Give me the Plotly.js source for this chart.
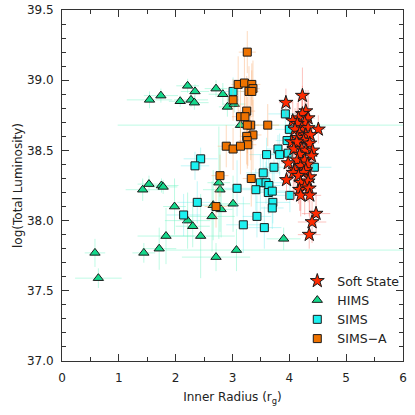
<!DOCTYPE html>
<html>
<head>
<meta charset="utf-8">
<script src="https://cdn.plot.ly/plotly-3.0.1.min.js"></script>
<style>html,body{margin:0;padding:0;background:#fff;}#chart{width:415px;height:415px;}</style>
</head>
<body>
<div id="chart"></div>
<script>
// ---- Data ----
// HIMS
const himsX   = [1.54,1.74,2.21,2.34,2.08,2.27,2.33,2.71,2.83,2.91,3.03,3.14,1.42,1.53,1.75,1.78,1.98,2.21,2.30,2.44,1.83,1.71,1.44,0.58,0.64,2.76,2.78,2.66,2.80,3.01,2.64,2.71,3.07,3.90];
const himsY   = [38.86,38.89,38.96,38.92,38.85,38.86,38.84,38.94,38.90,38.81,38.83,38.68,38.22,38.26,38.25,38.24,38.10,38.00,37.96,37.89,37.89,37.80,37.77,37.77,37.59,38.27,38.22,38.11,38.08,38.12,38.03,37.74,37.79,37.87];
const himsXErrPlus  = [0.40,0.30,0.20,0.25,0.20,0.30,0.25,0.20,0.25,0.15,0.20,3.00,0.30,0.20,0.30,0.25,0.20,0.40,0.30,0.60,0.50,0.30,0.20,0.18,0.41,0.20,0.30,0.30,0.20,0.30,0.40,0.60,3.00,0.30];
const himsXErrMinus = [0.40,0.30,0.20,0.25,0.20,0.30,0.25,0.20,0.25,0.15,0.20,2.16,0.30,0.20,0.30,0.25,0.20,0.40,0.30,0.60,0.50,0.30,0.20,0.18,0.41,0.20,0.30,0.30,0.20,0.30,0.40,0.60,1.24,0.30];
const himsYErr = [0.06,0.05,0.05,0.05,0.04,0.05,0.05,0.06,0.08,0.07,0.06,0.08,0.08,0.06,0.05,0.05,0.20,0.20,0.15,0.30,0.20,0.15,0.07,0.10,0.07,0.40,0.30,0.25,0.20,0.20,0.25,0.10,0.15,0.08];

// SIMS
const simsX = [3.01,3.93,4.00,3.96,2.44,2.34,3.60,3.80,3.83,3.98,3.73,3.54,4.44,3.08,2.38,3.49,3.59,3.41,3.64,3.63,3.70,3.71,3.70,4.01,3.43,3.19,3.56,2.14];
const simsY = [38.92,38.76,38.65,38.57,38.44,38.39,38.47,38.51,38.47,38.48,38.38,38.34,38.38,38.23,38.13,38.27,38.27,38.22,38.25,38.20,38.21,38.13,38.09,38.18,38.03,37.97,37.95,38.04];
const simsXErr = [0.20,0.30,0.25,0.20,0.30,0.25,0.30,0.20,0.25,0.30,0.20,0.30,0.30,0.25,0.35,0.20,0.30,0.25,0.20,0.30,0.25,0.30,0.20,0.30,0.25,0.30,0.30,0.30];
const simsYErr = [0.10,0.12,0.10,0.10,0.08,0.10,0.12,0.10,0.15,0.12,0.10,0.12,0.10,0.20,0.15,0.20,0.15,0.15,0.20,0.15,0.15,0.15,0.15,0.12,0.15,0.20,0.15,0.15];

// SIMS-A
const simsaX = [3.26,3.10,3.21,3.34,3.36,3.29,3.34,3.01,3.25,3.14,3.22,3.32,3.26,3.62,3.36,3.25,3.26,3.27,2.89,3.01,3.14,2.78,3.33,2.71];
const simsaY = [39.20,38.97,38.98,38.97,38.94,38.92,38.92,38.86,38.78,38.74,38.74,38.68,38.68,38.68,38.61,38.60,38.57,38.54,38.53,38.51,38.53,38.32,38.30,38.10];
const simsaXErr = [0.15,0.12,0.15,0.15,0.12,0.15,0.12,0.10,0.15,0.15,0.12,0.15,0.15,0.20,0.15,0.12,0.15,0.15,0.15,0.12,0.15,0.15,0.15,0.20];
const simsaYErr = [0.15,0.20,0.20,0.15,0.20,0.18,0.15,0.15,0.25,0.25,0.20,0.25,0.20,0.15,0.25,0.20,0.20,0.15,0.15,0.15,0.20,0.15,0.20,0.15];

// Soft State
const softX = [4.23,3.94,4.29,4.23,4.16,4.33,4.06,4.27,4.14,4.51,4.22,4.10,4.33,4.18,4.29,4.37,4.14,4.04,4.25,4.36,4.16,4.13,4.08,4.22,4.29,4.41,4.18,4.39,3.98,4.14,4.27,4.20,4.32,4.10,4.29,4.07,4.25,3.95,4.16,4.36,4.20,4.33,4.27,4.18,4.35,4.20,4.36,4.47,4.40,4.35];
const softY = [38.89,38.84,38.78,38.76,38.73,38.73,38.71,38.70,38.69,38.65,38.66,38.65,38.66,38.62,38.61,38.61,38.59,38.56,38.57,38.55,38.54,38.56,38.51,38.51,38.50,38.50,38.47,38.46,38.41,38.43,38.43,38.39,38.40,38.36,38.36,38.34,38.34,38.29,38.32,38.31,38.27,38.28,38.24,38.22,38.23,38.18,38.18,38.05,37.99,37.90];
const softXErr = [0.10,0.12,0.10,0.12,0.10,0.12,0.10,0.12,0.10,0.12,0.10,0.10,0.12,0.10,0.12,0.10,0.12,0.10,0.12,0.10,0.12,0.10,0.12,0.10,0.12,0.10,0.12,0.10,0.12,0.10,0.12,0.10,0.12,0.10,0.12,0.10,0.12,0.10,0.12,0.10,0.12,0.10,0.12,0.10,0.12,0.10,0.20,0.25,0.25,0.20];
const softYErr = [0.20,0.10,0.15,0.20,0.15,0.20,0.15,0.20,0.15,0.10,0.20,0.15,0.20,0.15,0.20,0.15,0.20,0.15,0.20,0.15,0.20,0.15,0.20,0.15,0.20,0.15,0.20,0.15,0.15,0.20,0.15,0.20,0.15,0.20,0.15,0.20,0.15,0.15,0.20,0.15,0.20,0.15,0.20,0.15,0.20,0.15,0.20,0.15,0.15,0.10];

const legendNames = ['Soft State','HIMS','SIMS','SIMS\u2212A'];

// ---- Traces ----
const outline = {color:'#1a1a1a', width:1};
const traces = [
  {
    type:'scatter', mode:'markers', name:legendNames[1], legendrank:2,
    x:himsX, y:himsY,
    error_x:{type:'data', symmetric:false, array:himsXErrPlus, arrayminus:himsXErrMinus, color:'rgba(110,245,195,0.45)', thickness:1, width:0},
    error_y:{type:'data', array:himsYErr, color:'rgba(110,245,195,0.45)', thickness:1, width:0},
    marker:{symbol:'triangle-up', size:9, color:'#14d98c', line:outline}
  },
  {
    type:'scatter', mode:'markers', name:legendNames[2], legendrank:3,
    x:simsX, y:simsY,
    error_x:{type:'data', array:simsXErr, color:'rgba(100,235,235,0.4)', thickness:1, width:0},
    error_y:{type:'data', array:simsYErr, color:'rgba(100,235,235,0.4)', thickness:1, width:0},
    marker:{symbol:'square', size:8, color:'#1cf0f0', line:outline}
  },
  {
    type:'scatter', mode:'markers', name:legendNames[3], legendrank:4,
    x:simsaX, y:simsaY,
    error_x:{type:'data', array:simsaXErr, color:'rgba(250,170,110,0.45)', thickness:1, width:0},
    error_y:{type:'data', array:simsaYErr, color:'rgba(250,170,110,0.45)', thickness:1, width:0},
    marker:{symbol:'square', size:8, color:'#ee7200', line:outline}
  },
  {
    type:'scatter', mode:'markers', name:legendNames[0], legendrank:1,
    x:softX, y:softY,
    error_x:{type:'data', array:softXErr, color:'rgba(250,120,110,0.45)', thickness:1, width:0},
    error_y:{type:'data', array:softYErr, color:'rgba(250,120,110,0.45)', thickness:1, width:0},
    marker:{symbol:'star', size:10.5, color:'#ff2a00', line:outline}
  }
];

const fontFam = 'DejaVu Sans, sans-serif';
const layout = {
  width:415, height:415,
  margin:{l:62, r:10, t:10, b:54, pad:0},
  paper_bgcolor:'#ffffff', plot_bgcolor:'#ffffff',
  font:{family:fontFam, size:12, color:'#222'},
  showlegend:true,
  legend:{x:0.69, y:0.27, xanchor:'left', yanchor:'top', bgcolor:'rgba(0,0,0,0)', borderwidth:0,
          font:{family:fontFam, size:12.5, color:'#222'}, tracegroupgap:0, itemsizing:'trace'},
  xaxis:{
    range:[0,6], dtick:1, tick0:0, ticks:'inside', ticklen:7, tickwidth:1, tickcolor:'#333',
    minor:{dtick:0.5, ticks:'inside', ticklen:4, tickcolor:'#333', showgrid:false},
    showline:true, linecolor:'#333', linewidth:1, mirror:'ticks', showgrid:false, zeroline:false,
    ticklabelstandoff:6,
    title:{text:'Inner Radius (r<sub>g</sub>)', font:{family:fontFam, size:12, color:'#222'}, standoff:8}
  },
  yaxis:{
    range:[37,39.5], dtick:0.5, tick0:37, tickformat:'.1f', ticks:'inside', ticklen:7, tickwidth:1, tickcolor:'#333',
    minor:{dtick:0.1, ticks:'inside', ticklen:4, tickcolor:'#333', showgrid:false},
    showline:true, linecolor:'#333', linewidth:1, mirror:'ticks', showgrid:false, zeroline:false,
    ticklabelstandoff:5,
    title:{text:'log(Total Luminosity)', font:{family:fontFam, size:12, color:'#222'}, standoff:1}
  }
};

Plotly.newPlot('chart', traces, layout, {staticPlot:true, displayModeBar:false});
</script>
</body>
</html>
